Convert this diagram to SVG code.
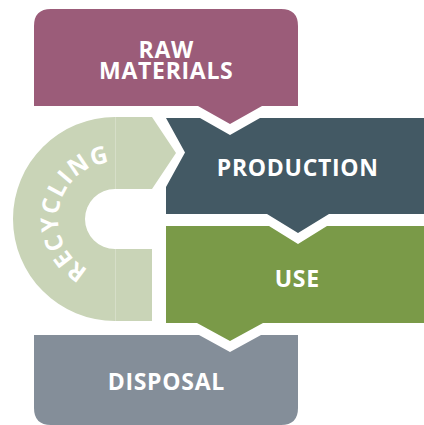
<svg xmlns="http://www.w3.org/2000/svg" width="424" height="425" viewBox="0 0 424 425">
<style>
.lbl{font-family:"Open Sans","Liberation Sans",sans-serif;font-weight:700;font-size:23px;letter-spacing:0.7px;fill:#ffffff;text-anchor:middle}
</style>
<defs>
<path id="arcPath" d="M115,276 A57,57 0 0 1 115,162"/>
</defs>
<rect width="424" height="425" fill="#ffffff"/>
<g id="recycling">
<path d="M115,117 H152 L176,153 L152,189 H115 A30,30 0 0 0 115,249 H152 V321 H115 A102,102 0 0 1 115,117 Z" fill="#c9d4b7"/>
<path d="M115.5,117 V189 M115.5,249 V321" stroke="#d6dec8" stroke-width="1"/>
<text class="lbl" style="font-size:24px;letter-spacing:1.5px"><textPath href="#arcPath" startOffset="56.5%">RECYCLING</textPath></text>
</g>
<g id="raw-materials">
<path d="M34,26 Q34,9 51,9 H281 Q298,9 298,26 V106 H262 L230,124 L198,106 H34 Z" fill="#9b5c79"/>
<text class="lbl" x="166.3" y="58">RAW</text>
<text class="lbl" x="166.3" y="79">MATERIALS</text>
</g>
<g id="production">
<path d="M166,118 H200 L230,135 L260,118 H424 V214 H329 L298,233 L267,214 H166 V187 L185,152.5 L166,118 Z" fill="#435964"/>
<text class="lbl" x="297.8" y="176">PRODUCTION</text>
</g>
<g id="use">
<path d="M166,226 H269 L298,244 L327,226 H424 V323 H263 L230,341 L197,323 H166 Z" fill="#7a9a48"/>
<text class="lbl" x="297.3" y="287">USE</text>
</g>
<g id="disposal">
<path d="M34,335 H199 L230,352 L261,335 H298 V408 Q298,425 281,425 H51 Q34,425 34,408 Z" fill="#848e99"/>
<text class="lbl" x="166.3" y="390">DISPOSAL</text>
</g>
<g id="connectors"></g>
</svg>
